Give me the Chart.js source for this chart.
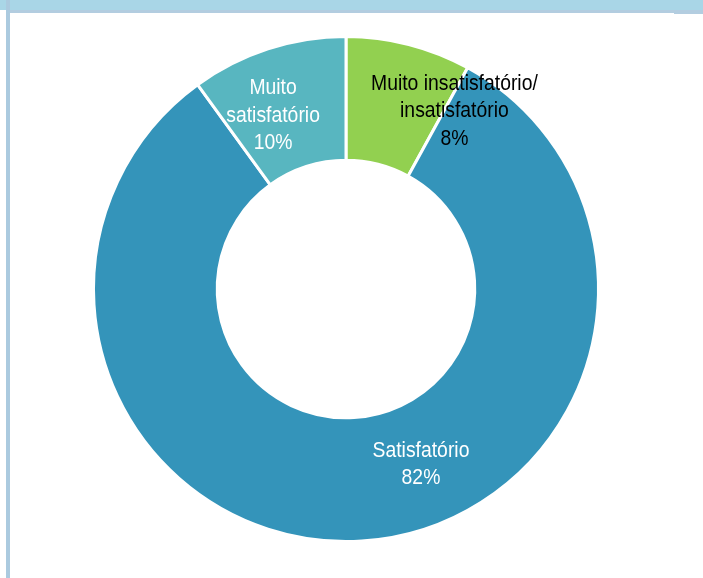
<!DOCTYPE html>
<html>
<head>
<meta charset="utf-8">
<script src="https://cdn.jsdelivr.net/npm/chart.js@4"></script>
<style>
  body { margin: 0; background: #fff; width: 703px; height: 578px; overflow: hidden; position: relative; }
  .topbar { position: absolute; left: 0; top: 0; width: 703px; height: 10px; background: #a9d6e7; }
  .topband { position: absolute; left: 6px; top: 10px; width: 697px; height: 3px; background: #b3cde0; }
  .rightband { position: absolute; left: 674px; top: 10px; width: 29px; height: 4px; background: #b3cde0; }
  .leftbar { position: absolute; left: 6px; top: 0; width: 4px; height: 578px; background: #abcadf; }
  #wrap { position: absolute; left: 0; top: 0; width: 703px; height: 578px; }
</style>
</head>
<body>
<div class="topbar"></div>
<div class="topband"></div>
<div class="rightband"></div>
<div class="leftbar"></div>
<div id="wrap"><canvas id="chart-satisfacao" width="703" height="578"></canvas></div>
<script>
// dados do gráfico (sentido horário a partir do topo)
const categorias = ['Muito insatisfatório/insatisfatório', 'Satisfatório', 'Muito satisfatório'];
const valores = [8, 82, 10];
const cores = ['#92d050', '#3494ba', '#58b6c0'];
const rotulos = [
    ['Muito insatisfatório/', 'insatisfatório', '8%'],
    ['Satisfatório', '82%'],
    ['Muito', 'satisfatório', '10%']
];
const corRotulo = ['#000000', '#ffffff', '#ffffff'];
const deslocRotulo = [[61, 7], [63, -15], [-14, 8]];

const rotulosPlugin = {
    id: 'rotulos',
    afterDatasetsDraw(chart) {
        const ctx = chart.ctx;
        const meta = chart.getDatasetMeta(0);
        ctx.save();
        ctx.font = '22px "Liberation Sans", Arial, sans-serif';
        ctx.textAlign = 'center';
        ctx.textBaseline = 'middle';
        meta.data.forEach((arc, i) => {
            const p = arc.tooltipPosition();
            const linhas = rotulos[i];
            const lh = 27.5;
            const cx = p.x + deslocRotulo[i][0];
            const cy = p.y + deslocRotulo[i][1];
            ctx.fillStyle = corRotulo[i];
            linhas.forEach((t, k) => {
                ctx.save();
                ctx.translate(cx, cy + (k - (linhas.length - 1) / 2) * lh);
                ctx.scale(0.88, 1); // fonte estreita
                ctx.fillText(t, 0, 0);
                ctx.restore();
            });
        });
        ctx.restore();
    }
};

let ctxSat = document.getElementById('chart-satisfacao').getContext('2d');
let graficoSat = new Chart(ctxSat, {
    type: 'doughnut',
    data: {
        labels: categorias,
        datasets: [{
            data: valores,
            backgroundColor: cores,
            borderColor: '#ffffff',
            borderWidth: 3,
            hoverOffset: 0
        }]
    },
    options: {
        responsive: false,
        animation: false,
        cutout: '51%',
        layout: { padding: { left: 92, right: 103, top: 35, bottom: 35 } },
        plugins: {
            legend: { display: false },
            title: { display: false },
            tooltip: { enabled: false }
        }
    },
    plugins: [rotulosPlugin]
});
</script>
</body>
</html>
